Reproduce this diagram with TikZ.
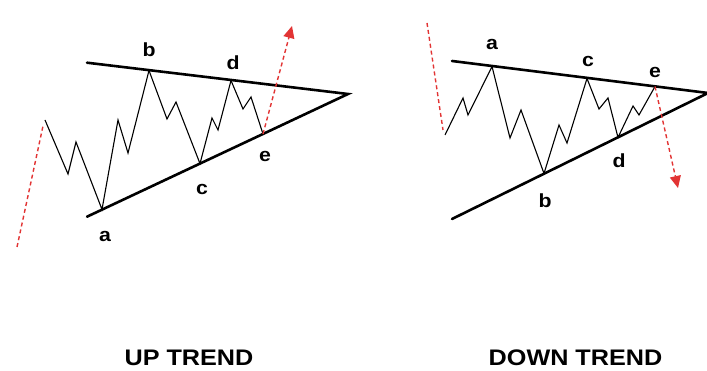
\documentclass[tikz,border=0pt]{standalone}
\usepackage{fontspec}
\setmainfont{Liberation Sans}[FakeStretch=1.12]
\usetikzlibrary{arrows.meta}
\definecolor{trendred}{RGB}{226,52,52}
\tikzset{
  bound/.style={line width=2.6pt, line cap=round},
  wave/.style={line width=1.1pt, line join=miter},
  breakout/.style={trendred, line width=1.4pt, dash pattern=on 4pt off 3pt},
  breakhead/.style={-{Triangle[length=12pt,width=11pt]}},
  lbl/.style={font=\fontsize{19}{19}\selectfont\bfseries, anchor=base, inner sep=0pt},
  ttl/.style={font=\fontsize{22.5}{22.5}\selectfont\bfseries, anchor=base, inner sep=0pt}
}
\begin{document}
\begin{tikzpicture}[x=1pt,y=-1pt]
\useasboundingbox (0,0) rectangle (707,371);
\begin{scope}
\clip (0,0) rectangle (707,371);
% ---------- UP TREND ----------
\coordinate (Lu0) at (87,62.7);
\coordinate (Ll0) at (87,216.7);
\coordinate (Lap) at (348,94);
\coordinate (La) at (102,209.5);
\coordinate (Lb) at (149,70.5);
\coordinate (Lc) at (200,163.6);
\coordinate (Ld) at (231,80.5);
\coordinate (Le) at (263,134);
\coordinate (Ls) at (45,120);
\coordinate (Lr0) at (17,247);
\coordinate (Ltip) at (292,26);
\draw[bound] (Lu0) -- (Lap) -- (Ll0);
\draw[wave] (Ls) -- (68,174) -- (76,142) -- (La) -- (118,120) -- (128,153) -- (Lb)
  -- (167,119) -- (176,102) -- (Lc) -- (212,118) -- (218,130) -- (Ld)
  -- (243,109) -- (251,97) -- (Le);
\draw[breakout] (Lr0) -- (43,126);
\draw[breakout, breakhead] (Le) -- (Ltip);
\node[lbl] (la) at (105,241.5) {a};
\node[lbl] (lb) at (149,57) {b};
\node[lbl] (lc) at (202,195) {c};
\node[lbl] (ld) at (233,70) {d};
\node[lbl] (le) at (265,161.5) {e};
\node[ttl] (upt) at (189,365.5) {UP TREND};
% ---------- DOWN TREND ----------
\coordinate (Ru0) at (452,61);
\coordinate (Rl0) at (452,219);
\coordinate (Rap) at (708,93);
\coordinate (Ra) at (492,66.5);
\coordinate (Rb) at (544,173.5);
\coordinate (Rc) at (587,78.5);
\coordinate (Rd) at (618,137.5);
\coordinate (Re) at (655,86.5);
\coordinate (Rs) at (445,135);
\coordinate (Rr0) at (427,23);
\coordinate (Rtip) at (678,188);
\draw[bound] (Ru0) -- (Rap) -- (Rl0);
\draw[wave] (Rs) -- (463,98) -- (468,115) -- (Ra) -- (510,138) -- (521,110) -- (Rb)
  -- (559,125) -- (567,143) -- (Rc) -- (599,109) -- (608,98) -- (Rd)
  -- (633,106) -- (639,115) -- (Re);
\draw[breakout] (Rr0) -- (443,130);
\draw[breakout, breakhead] (Re) -- (Rtip);
\node[lbl] (ra) at (492,50) {a};
\node[lbl] (rb) at (545,208) {b};
\node[lbl] (rc) at (588,66.5) {c};
\node[lbl] (rd) at (619,168) {d};
\node[lbl] (re) at (655,78) {e};
\node[ttl] (dnt) at (575.5,365.5) {DOWN TREND};
\end{scope}
\end{tikzpicture}
\end{document}
